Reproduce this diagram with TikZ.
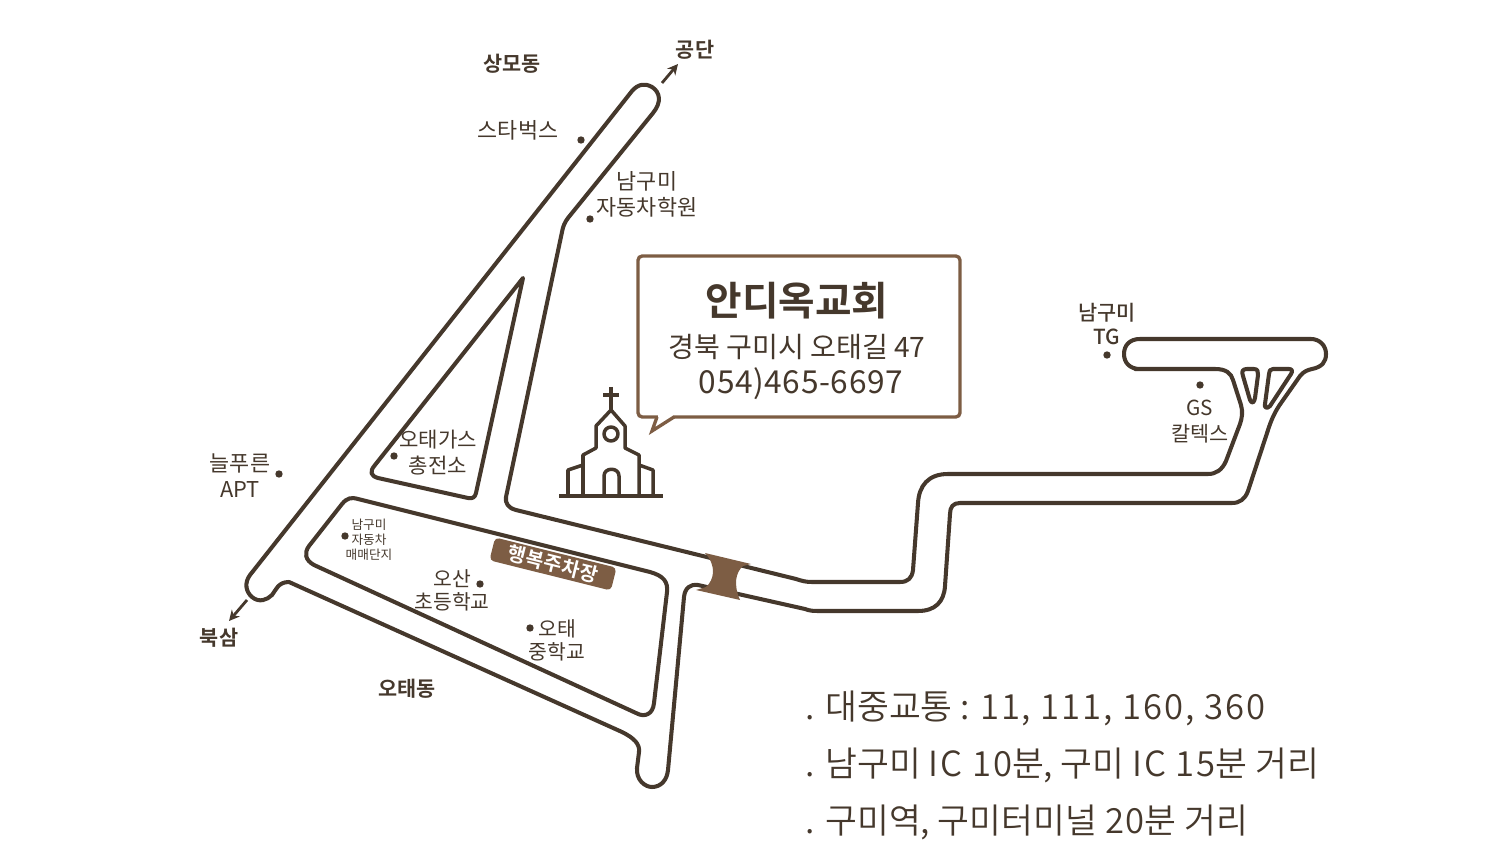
\documentclass[tikz,border=0pt]{standalone}
\usepackage{fontspec}
\setmainfont{Noto Sans CJK KR}[BoldFont={Noto Sans CJK KR Bold}]
\newfontfamily\lightfont{Noto Sans CJK KR DemiLight}
\newfontfamily\mediumfont{Noto Sans CJK KR Medium}
\newcommand{\spaced}[1]{{\addfontfeatures{LetterSpace=5.5}#1}}
\usetikzlibrary{arrows.meta}
\definecolor{mapdark}{RGB}{69,56,44}
\definecolor{mapbrown}{RGB}{125,93,68}
\tikzset{
  road/.style={draw=mapdark, line width=1.15pt, line join=round},
  place/.style={text=mapdark, font=\fontsize{6.2}{7.4}\selectfont, align=center, inner sep=0pt},
  area/.style={text=mapdark, font=\fontsize{5.9}{7}\selectfont\bfseries, align=center, inner sep=0pt},
  info/.style={text=mapdark, font=\lightfont\fontsize{9.85}{12}\selectfont, anchor=west, inner sep=0pt},
  spot/.style={fill=mapdark, circle, inner sep=0pt, minimum size=2.1pt},
  way/.style={-{Stealth[length=3pt,width=3pt]}, draw=mapdark, line width=0.8pt}
}
\begin{document}
\begin{tikzpicture}[x=0.01cm,y=-0.01cm]
\useasboundingbox (0,0) rectangle (1500,864);
% Main road outline
\draw[road] (1135,369) -- (1215,369) .. controls (1226,369) and (1231,373) .. (1233,380)
  -- (1241,405) .. controls (1243,412) and (1242,418) .. (1240,424)
  -- (1226,461) .. controls (1222,470) and (1216,474) .. (1208,474)
  -- (948,474) .. controls (928,474) and (919,486) .. (918,503)
  -- (913,570) .. controls (912,578) and (908,582) .. (900,582)
  -- (812,582) .. controls (806,582) and (802,581) .. (796,579)
  -- (516,510) .. controls (508,508) and (505,503) .. (506,497)
  -- (562,232) .. controls (563,226) and (565,222) .. (568,218)
  -- (653,113) .. controls (662,102) and (660,92) .. (652,87)
  .. controls (645,83) and (638,84) .. (632,91)
  -- (250,575) .. controls (244,583) and (246,592) .. (252,597)
  .. controls (259,603) and (267,600) .. (272,595)
  .. controls (276,590) and (278,582) .. (289,582)
  -- (622,732) .. controls (634,738) and (640,744) .. (639,752)
  -- (637,768) .. controls (636,780) and (645,787) .. (652,787)
  .. controls (661,787) and (667,780) .. (668,770)
  -- (684,597) .. controls (685,588) and (690,584) .. (698,585)
  -- (805,609) .. controls (810,611) and (814,611) .. (820,611)
  -- (918,611) .. controls (935,611) and (944,602) .. (945,586)
  -- (950,514) .. controls (950,507) and (953,503) .. (960,503)
  -- (1232,503) .. controls (1240,503) and (1245,499) .. (1248,491)
  -- (1269,427) .. controls (1272,418) and (1276,410) .. (1281,403)
  -- (1300,376) .. controls (1304,371) and (1308,370) .. (1312,369)
  .. controls (1322,367) and (1326,362) .. (1326,354)
  .. controls (1326,345) and (1319,339) .. (1311,339)
  -- (1140,339) .. controls (1130,339) and (1124,345) .. (1124,354)
  .. controls (1124,363) and (1130,369) .. (1140,369) -- cycle;
% Road islands
\draw[road] (523,278) -- (375,465) .. controls (369,472) and (371,476) .. (378,478)
  -- (468,498) .. controls (473,499) and (475,497) .. (476,493) -- cycle;
\draw[road] (358,499) -- (650,572) .. controls (664,576) and (668,582) .. (667,592)
  -- (654,703) .. controls (653,714) and (645,718) .. (636,713)
  -- (314,565) .. controls (305,560) and (304,553) .. (309,546)
  -- (342,504) .. controls (347,498) and (351,497) .. (358,499) -- cycle;
\draw[road] (1247,369) -- (1254,369) .. controls (1258,369) and (1258,372) .. (1258,375)
  -- (1255,398) .. controls (1254,403) and (1252,404) .. (1250,400)
  -- (1243,376) .. controls (1241,371) and (1243,369) .. (1247,369) -- cycle;
\draw[road] (1273,369) -- (1289,369) .. controls (1292,369) and (1293,371) .. (1291,374)
  -- (1270,406) .. controls (1267,409) and (1264,408) .. (1265,404)
  -- (1269,374) .. controls (1269,371) and (1270,369) .. (1273,369) -- cycle;
% Underpass
\fill[mapbrown] (705,553) -- (751,564) -- (743,566) .. controls (736,572) and (733,584) .. (740,600)
  -- (696,590) -- (706,587) .. controls (714,580) and (717,566) .. (705,553) -- cycle;
% Parking label
\node[fill=mapbrown, rounded corners=1.2pt, text=white, font=\fontsize{5.6}{7}\selectfont\bfseries,
  minimum width=1.25cm, minimum height=0.235cm, inner sep=0pt, rotate=-14] (parking) at (553,564) {\addfontfeatures{LetterSpace=3}행복주차장};
% Church
\draw[road, line width=1pt] (559,496) -- (663,496);
\draw[road, line width=1pt] (583,496) -- (583,455) -- (596,448) -- (596,426) -- (611,410) -- (625,426) -- (625,448) -- (639,455) -- (639,496);
\draw[road, line width=1pt] (583,465) -- (568,470) -- (568,496);
\draw[road, line width=1pt] (639,465) -- (653,470) -- (653,496);
\draw[road, line width=1pt] (604,496) -- (604,476) .. controls (604,467) and (619,467) .. (619,476) -- (619,496);
\draw[road, line width=1pt] (611,434) circle (7);
\draw[road, line width=1pt] (611,387) -- (611,410);
\draw[road, line width=1pt] (603,395) -- (619,395);
% Speech bubble
\draw[draw=mapbrown, line width=0.95pt, rounded corners=1.2pt] (638,256) rectangle (960,417);
\fill[white] (658,415) rectangle (673,419);
\draw[draw=mapbrown, line width=0.95pt, line join=miter] (657,417) -- (652,431) -- (674,417);
\node[text=mapdark, font=\fontsize{11.3}{13}\selectfont\bfseries, inner sep=0pt] (church) at (797,301) {안디옥교회};
\node[text=mapdark, font=\fontsize{8}{10}\selectfont, inner sep=0pt] (address) at (797,347) {경북 구미시 오태길 47};
\node[text=mapdark, font=\fontsize{9}{10}\selectfont, inner sep=0pt] (phone) at (801,384) {\addfontfeatures{LetterSpace=2}054)465-6697};
% Spots
\node[spot] (starbucks) at (581,140) {};
\node[spot] (academy) at (590,219) {};
\node[spot] (apt) at (279,474) {};
\node[spot] (gas) at (394,456) {};
\node[spot] (market) at (345,536) {};
\node[spot] (osan) at (480,584) {};
\node[spot] (otae) at (530,628) {};
\node[spot] (tg) at (1107,355) {};
\node[spot] (gs) at (1200,385) {};
% Labels
\node[area] (gongdan) at (695,50) {공단};
\node[area] (sangmo) at (512,64) {상모동};
\node[area] (buksam) at (219,638) {북삼};
\node[area] (otaedong) at (407,689) {오태동};
\node[place] (starlabel) at (518,130) {스타벅스};
\node[place] (academylabel) at (647,194) {남구미\\자동차학원};
\node[place, font=\fontsize{6}{7.4}\selectfont] (gaslabel) at (438,453) {오태가스\\총전소};
\node[place] (aptlabel) at (240,476) {늘푸른\\APT};
\node[place, font=\fontsize{3.6}{4.3}\selectfont] (marketlabel) at (369,540) {남구미\\자동차\\매매단지};
\node[place, font=\fontsize{5.8}{6.5}\selectfont] (osanlabel) at (452,590) {오산\\초등학교};
\node[place, font=\fontsize{5.8}{6.5}\selectfont] (otaelabel) at (557,640) {오태\\중학교};
\node[place, font=\mediumfont\fontsize{5.9}{7.1}\selectfont] (tglabel) at (1107,324) {남구미\\TG};
\node[place, font=\fontsize{5.9}{7.4}\selectfont] (gslabel) at (1200,422) {GS\\칼텍스};
% Direction arrows
\coordinate (gongdanfrom) at (662,83);
\coordinate (gongdanto) at (678,64);
\coordinate (buksamfrom) at (247,600);
\coordinate (buksamto) at (229,621);
\draw[way] (gongdanfrom) -- (gongdanto);
\draw[way] (buksamfrom) -- (buksamto);
% Directions text
\node[info] (bus) at (805,708) {. 대중교통 : \spaced{11, 111, 160, 360}};
\node[info] (ic) at (805,765) {. 남구미 \spaced{IC 10}분, 구미 \spaced{IC 15}분 거리};
\node[info] (station) at (805,822) {. 구미역, 구미터미널 \spaced{20}분 거리};
\end{tikzpicture}
\end{document}
